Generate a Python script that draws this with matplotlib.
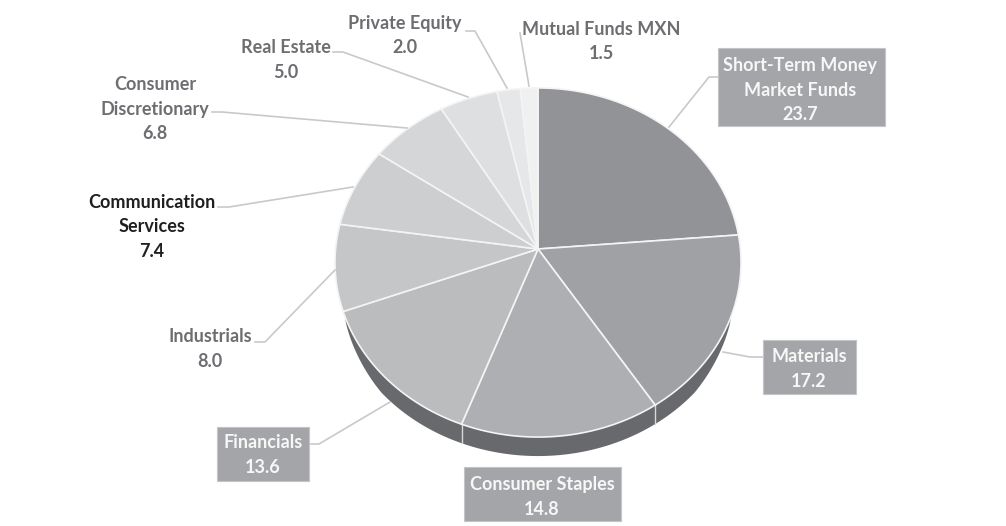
"""Tilted 3D-look pie of portfolio weights, drawn on a pixel-sized axes."""
import matplotlib
matplotlib.use("Agg")
import matplotlib.pyplot as plt
from matplotlib.patches import Polygon, Rectangle
import numpy as np

names = ["Short-Term Money\nMarket Funds", "Materials", "Consumer Staples", "Financials",
         "Industrials", "Communication\nServices", "Consumer\nDiscretionary",
         "Real Estate", "Private Equity", "Mutual Funds MXN"]
values = [23.7, 17.2, 14.8, 13.6, 8.0, 7.4, 6.8, 5.0, 2.0, 1.5]
colors = ["#929396", "#a0a1a4", "#aeafb2", "#bbbcbe", "#c5c6c8",
          "#cdced0", "#d5d6d8", "#dedfe0", "#e6e7e8", "#eff0f0"]

# layout, in image pixels
CX, CY = 538, 249
RX, RY, K = 202.4, 173.5, 0.0774
DEPTH = 19
label_xy = [(800, 90), (809, 369), (542, 497), (263, 455), (210, 349),
            (152, 227), (155, 109), (286, 60), (405, 35.5), (601, 41.5)]
boxes = {0: (718, 48, 167, 78), 1: (763, 340, 93, 54), 2: (464, 467, 157, 54), 3: (217, 427, 92, 54)}
leaders = [[(718, 77), (709, 77), (669, 127)],
           [(763, 357), (750, 357), (723, 352)],
           [(390, 402), (319, 444), (309, 444)],
           [(255, 342), (265, 342), (335, 270)],
           [(218, 207), (229, 207), (353, 187)],
           [(212, 112), (222, 112), (407, 128)],
           [(333, 52), (343, 52), (468, 97)],
           [(466, 31), (475, 31), (507, 88)],
           [(520, 33), (529, 86)]]


def project(theta):
    # theta clockwise from top, unit circle seen in perspective
    u, v = np.sin(theta), np.cos(theta)
    w = 1 + K * v
    return CX + RX * u / w, CY - RY * v / w


def wall_depth(theta):
    # wall thins out towards the sides of the pie
    return DEPTH * np.clip(-(np.cos(theta) + 0.38) / 0.3, 0, 1) ** 0.5


fig = plt.figure(figsize=(10.06, 5.26), dpi=100)
ax = fig.add_axes([0, 0, 1, 1])
ax.set_xlim(0, 1006)
ax.set_ylim(526, 0)
ax.axis("off")

edges = np.cumsum([0] + values) / 100 * 2 * np.pi

# side wall first
t = np.linspace(np.radians(112), np.radians(248), 300)
x, y = project(t)
d = wall_depth(t)
wall = np.column_stack([np.r_[x, x[::-1]], np.r_[y, (y + d)[::-1]]])
ax.add_patch(Polygon(wall, closed=True, fc="#68696c", ec="none", zorder=1))
for e in edges:
    if np.radians(112) < e < np.radians(248):
        px, py = project(e)
        ax.plot([px, px], [py, py + wall_depth(e)], color="#d9d9d9", lw=1, zorder=1.5)

for i, val in enumerate(values):
    t = np.linspace(edges[i], edges[i + 1], 80)
    x, y = project(t)
    pts = np.column_stack([np.r_[CX, x], np.r_[CY, y]])
    ax.add_patch(Polygon(pts, closed=True, fc=colors[i], ec="#f4f4f4", lw=1.2, zorder=2))

for pts in leaders:
    xs, ys = zip(*pts)
    ax.plot(xs, ys, color="#c9c9c9", lw=1.2, zorder=3)

for i, (name, val) in enumerate(zip(names, values)):
    if i in boxes:
        bx, by, bw, bh = boxes[i]
        ax.add_patch(Rectangle((bx, by), bw, bh, fc="#a4a5a8", ec="#c4c5c7", lw=0.8, zorder=3))
        col = "#f7f7f7"
    elif i == 5:
        col = "#1f1f1f"
    else:
        col = "#6d6e71"
    ax.text(label_xy[i][0], label_xy[i][1], f"{name}\n{val:.1f}", ha="center", va="center",
            color=col, fontsize=13, family="Lato", weight="bold", linespacing=1.55, zorder=4)

fig.savefig("out.png", dpi=100)
